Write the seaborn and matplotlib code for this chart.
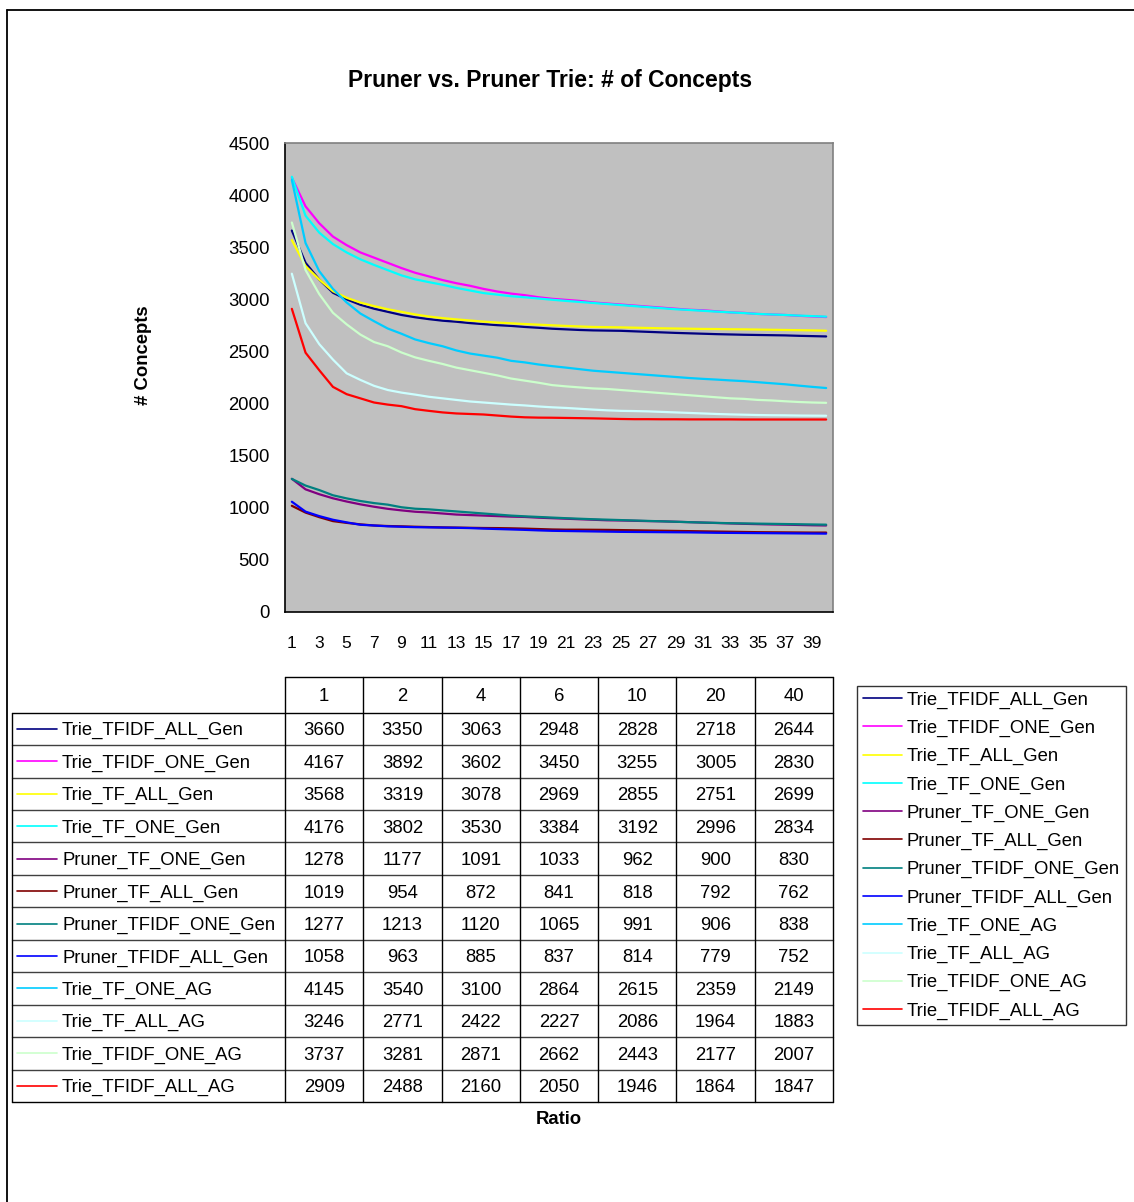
import numpy as np
import pandas as pd
import matplotlib
matplotlib.use("Agg")
import matplotlib.pyplot as plt
from matplotlib.lines import Line2D
import seaborn as sns

sns.set_style("white")
plt.rcParams["font.family"] = ["Liberation Sans", "DejaVu Sans"]
plt.rcParams["text.color"] = "black"
plt.rcParams["axes.labelcolor"] = "black"
plt.rcParams["xtick.color"] = "black"
plt.rcParams["ytick.color"] = "black"

# ---- data -------------------------------------------------------------
ratios = list(range(1, 41))
table_ratios = [1, 2, 4, 6, 10, 20, 40]

series_names = [
    "Trie_TFIDF_ALL_Gen", "Trie_TFIDF_ONE_Gen", "Trie_TF_ALL_Gen", "Trie_TF_ONE_Gen",
    "Pruner_TF_ONE_Gen", "Pruner_TF_ALL_Gen", "Pruner_TFIDF_ONE_Gen", "Pruner_TFIDF_ALL_Gen",
    "Trie_TF_ONE_AG", "Trie_TF_ALL_AG", "Trie_TFIDF_ONE_AG", "Trie_TFIDF_ALL_AG",
]
series_colors = [
    "#000080", "#FF00FF", "#FFFF00", "#00FFFF",
    "#800080", "#800000", "#008080", "#0000FF",
    "#00CCFF", "#CCFFFF", "#CCFFCC", "#FF0000",
]

trie_tfidf_all_gen = [3660, 3350, 3190, 3063, 3000, 2948, 2910, 2880, 2850, 2828,
                      2810, 2795, 2785, 2772, 2762, 2752, 2745, 2735, 2727, 2718,
                      2712, 2706, 2702, 2700, 2698, 2693, 2688, 2683, 2678, 2674,
                      2670, 2666, 2663, 2660, 2658, 2656, 2654, 2650, 2647, 2644]
trie_tfidf_one_gen = [4167, 3892, 3730, 3602, 3520, 3450, 3400, 3350, 3300, 3255,
                      3220, 3185, 3155, 3130, 3100, 3075, 3055, 3040, 3020, 3005,
                      2995, 2985, 2970, 2960, 2950, 2940, 2930, 2920, 2910, 2900,
                      2895, 2885, 2875, 2870, 2860, 2855, 2850, 2842, 2836, 2830]
trie_tf_all_gen = [3568, 3319, 3190, 3078, 3015, 2969, 2935, 2905, 2880, 2855,
                   2835, 2820, 2808, 2797, 2786, 2777, 2770, 2763, 2757, 2751,
                   2745, 2740, 2735, 2733, 2731, 2728, 2725, 2722, 2720, 2718,
                   2716, 2715, 2713, 2712, 2710, 2708, 2706, 2704, 2702, 2699]
trie_tf_one_gen = [4176, 3802, 3640, 3530, 3450, 3384, 3330, 3280, 3230, 3192,
                   3165, 3140, 3110, 3085, 3060, 3045, 3030, 3020, 3008, 2996,
                   2985, 2975, 2965, 2955, 2945, 2935, 2925, 2915, 2905, 2898,
                   2890, 2882, 2875, 2868, 2860, 2855, 2850, 2844, 2839, 2834]
pruner_tf_one_gen = [1278, 1177, 1130, 1091, 1060, 1033, 1010, 990, 975, 962,
                     955, 945, 935, 930, 925, 920, 915, 912, 905, 900,
                     895, 890, 885, 880, 878, 875, 872, 870, 866, 862,
                     858, 854, 850, 846, 843, 840, 838, 835, 832, 830]
pruner_tf_all_gen = [1019, 954, 910, 872, 855, 841, 830, 825, 822, 818,
                     815, 812, 810, 808, 806, 805, 803, 800, 796, 792,
                     790, 790, 789, 788, 786, 784, 782, 780, 778, 776,
                     774, 772, 770, 768, 766, 765, 764, 763, 762, 762]
pruner_tfidf_one_gen = [1277, 1213, 1170, 1120, 1090, 1065, 1045, 1030, 1005, 991,
                        985, 975, 965, 955, 945, 935, 925, 918, 912, 906,
                        900, 895, 890, 886, 882, 878, 874, 870, 866, 862,
                        858, 855, 852, 850, 848, 846, 844, 842, 840, 838]
pruner_tfidf_all_gen = [1058, 963, 920, 885, 860, 837, 830, 822, 818, 814,
                        812, 810, 808, 805, 800, 796, 792, 788, 783, 779,
                        777, 775, 773, 771, 769, 768, 767, 766, 765, 764,
                        762, 760, 759, 758, 757, 756, 755, 754, 753, 752]
trie_tf_one_ag = [4145, 3540, 3270, 3100, 2970, 2864, 2790, 2720, 2670, 2615,
                  2580, 2550, 2510, 2480, 2460, 2440, 2410, 2395, 2375, 2359,
                  2345, 2330, 2315, 2305, 2295, 2285, 2275, 2265, 2255, 2245,
                  2237, 2230, 2222, 2215, 2205, 2195, 2185, 2172, 2160, 2149]
trie_tf_all_ag = [3246, 2771, 2570, 2422, 2290, 2227, 2170, 2130, 2105, 2086,
                  2065, 2050, 2035, 2020, 2010, 2000, 1990, 1982, 1972, 1964,
                  1958, 1950, 1942, 1935, 1930, 1928, 1925, 1920, 1915, 1910,
                  1905, 1900, 1896, 1893, 1890, 1888, 1887, 1885, 1884, 1883]
trie_tfidf_one_ag = [3737, 3281, 3050, 2871, 2760, 2662, 2590, 2550, 2490, 2443,
                     2410, 2380, 2345, 2320, 2295, 2270, 2240, 2220, 2200, 2177,
                     2165, 2155, 2145, 2140, 2130, 2120, 2110, 2100, 2090, 2080,
                     2070, 2060, 2050, 2045, 2035, 2030, 2022, 2015, 2010, 2007]
trie_tfidf_all_ag = [2909, 2488, 2320, 2160, 2090, 2050, 2010, 1990, 1975, 1946,
                     1930, 1915, 1905, 1900, 1895, 1885, 1875, 1868, 1865, 1864,
                     1862, 1860, 1858, 1855, 1852, 1850, 1850, 1849, 1849, 1848,
                     1848, 1848, 1848, 1847, 1847, 1847, 1847, 1847, 1847, 1847]

series_values = [
    trie_tfidf_all_gen, trie_tfidf_one_gen, trie_tf_all_gen, trie_tf_one_gen,
    pruner_tf_one_gen, pruner_tf_all_gen, pruner_tfidf_one_gen, pruner_tfidf_all_gen,
    trie_tf_one_ag, trie_tf_all_ag, trie_tfidf_one_ag, trie_tfidf_all_ag,
]

df = pd.DataFrame(
    [(name, r, v) for name, vals in zip(series_names, series_values)
     for r, v in zip(ratios, vals)],
    columns=["series", "ratio", "concepts"],
)

# ---- figure / pixel helpers ---------------------------------------------
W, H = 1134, 1202
fig = plt.figure(figsize=(W / 100, H / 100), dpi=100)
fig.patch.set_facecolor("white")


def fx(x):
    return x / W


def fy(y):
    return 1 - y / H


FS = 13.3

# outer frame (top and left edges)
fig.add_artist(Line2D([fx(7), fx(1134)], [fy(10), fy(10)], color="black", lw=1.3,
                      transform=fig.transFigure))
fig.add_artist(Line2D([fx(7), fx(7)], [fy(10), fy(1202)], color="black", lw=1.3,
                      transform=fig.transFigure))

# ---- chart --------------------------------------------------------------
ax = fig.add_axes([fx(285), fy(612), 548 / W, 469 / H])
ax.set_facecolor("#C0C0C0")
sns.lineplot(data=df, x="ratio", y="concepts", hue="series", hue_order=series_names,
             palette=series_colors, linewidth=1.6, estimator=None, sort=False,
             legend=False, ax=ax)

ax.set_xlim(0.5, 40.5)
ax.set_ylim(0, 4500)
ax.set_yticks(np.arange(0, 4501, 500))
ax.set_yticklabels([str(v) for v in range(0, 4501, 500)], fontsize=FS)
ax.set_xticks(ratios[::2])
ax.set_xticklabels([str(r) for r in ratios[::2]], fontsize=12.5)
ax.set_xticks(np.arange(0.5, 41, 2), minor=True)
ax.tick_params(axis="x", which="major", length=0, pad=17)
ax.tick_params(axis="x", which="minor", direction="inout", length=10, width=1, color="black")
ax.tick_params(axis="y", which="major", direction="inout", length=10, width=1,
               color="black", pad=6)
ax.set_xlabel("")
ax.set_ylabel("")
for side in ("left", "bottom"):
    ax.spines[side].set_color("black")
    ax.spines[side].set_linewidth(1.2)
for side in ("top", "right"):
    ax.spines[side].set_color("#808080")
    ax.spines[side].set_linewidth(1.2)

fig.text(fx(550), fy(81), "Pruner vs. Pruner Trie: # of Concepts", ha="center", va="center",
         fontsize=16.5, fontweight="bold")
fig.text(fx(143), fy(355), "# Concepts", ha="center", va="center", rotation=90,
         fontsize=FS, fontweight="bold")
fig.text(fx(559), fy(1119), "Ratio", ha="center", va="center", fontsize=FS,
         fontweight="bold")

# ---- data table ---------------------------------------------------------
col_left = 285
col_w = 548 / len(table_ratios)
col_edges = [col_left + i * col_w for i in range(len(table_ratios) + 1)]
head_top = 677
row_top = 712.6
row_h = 32.45
row_edges = [row_top + i * row_h for i in range(len(series_names) + 1)]
text_dy = 2  # nudge so the glyphs sit in the middle of each cell


def hline(x0, x1, y, color="black"):
    fig.add_artist(Line2D([fx(x0), fx(x1)], [fy(y), fy(y)], color=color, lw=1.0,
                          transform=fig.transFigure))


def vline(x, y0, y1, color="black"):
    fig.add_artist(Line2D([fx(x), fx(x)], [fy(y0), fy(y1)], color=color, lw=1.0,
                          transform=fig.transFigure))


hline(col_left, col_edges[-1], head_top)
for i, y in enumerate(row_edges):
    hline(12, col_edges[-1], y, color="black" if i in (0, len(row_edges) - 1) else "#404040")
vline(12, row_edges[0], row_edges[-1])
for x in col_edges:
    vline(x, head_top, row_edges[-1])

for j, r in enumerate(table_ratios):
    cx = (col_edges[j] + col_edges[j + 1]) / 2
    fig.text(fx(cx), fy((head_top + row_top) / 2 + text_dy), str(r), ha="center",
             va="center", fontsize=FS)

for i, (name, vals, color) in enumerate(zip(series_names, series_values, series_colors)):
    cy = (row_edges[i] + row_edges[i + 1]) / 2
    fig.add_artist(Line2D([fx(17), fx(57)], [fy(cy), fy(cy)], color=color, lw=1.2,
                          transform=fig.transFigure))
    fig.text(fx(62), fy(cy + text_dy), name, ha="left", va="center", fontsize=FS)
    for j, r in enumerate(table_ratios):
        cx = (col_edges[j] + col_edges[j + 1]) / 2
        fig.text(fx(cx), fy(cy + text_dy), str(vals[r - 1]), ha="center", va="center",
                 fontsize=FS)

# ---- legend -------------------------------------------------------------
handles = [Line2D([], [], color=c, lw=1.2) for c in series_colors]
leg = fig.legend(handles, series_names, loc="upper left",
                 bbox_to_anchor=(fx(857), fy(686)), frameon=True, fancybox=False,
                 edgecolor="black", fontsize=FS, handlelength=2.15, handletextpad=0.25,
                 labelspacing=0.6, borderpad=0.3, borderaxespad=0)
leg.get_frame().set_linewidth(1.0)

fig.savefig("out.png", dpi=100, facecolor="white")
